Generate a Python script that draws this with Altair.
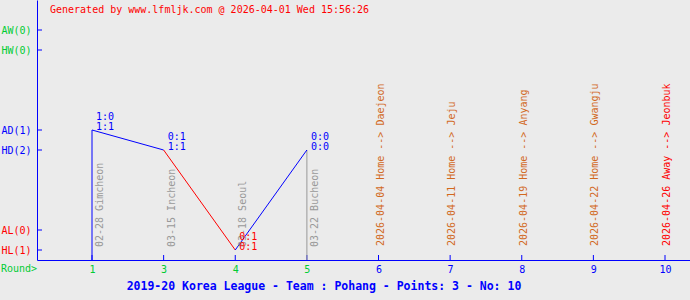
import altair as alt
import pandas as pd

# ---------------- data ----------------
rounds = [1, 3, 4, 5, 6, 7, 8, 9, 10]

level_names = ["HL(1)", "AL(0)", "HD(2)", "AD(1)", "HW(0)", "AW(0)"]
level_values = [1, 3, 11, 13, 21, 23]

played_rounds = [1, 3, 4, 5]
played_level = ["AD(1)", "HD(2)", "HL(1)", "HD(2)"]
played_result = ["D", "D", "L", "D"]
played_top = ["1:0", "0:1", "0:1", "0:0"]
played_bottom = ["1:1", "1:1", "0:1", "0:0"]
played_label = ["02-28 Gimcheon", "03-15 Incheon", "03-18 Seoul", "03-22 Bucheon"]
blue_stem_rounds = [1]
gray_stem_rounds = [5]

fut_rounds = [6, 7, 8, 9, 10]
fut_dates = ["2026-04-04", "2026-04-11", "2026-04-19", "2026-04-22", "2026-04-26"]
fut_venue = ["Home", "Home", "Home", "Home", "Away"]
fut_opp = ["Daejeon", "Jeju", "Anyang", "Gwangju", "Jeonbuk"]

header = "Generated by www.lfmljk.com @ 2026-04-01 Wed 15:56:26"
title = "2019-20 Korea League - Team : Pohang - Points: 3 - No: 10"
round_label = "Round>"

# ---------------- styles ----------------
FONT = "DejaVu Sans Mono"
BLUE = "#0000ff"
RED = "#ff0000"
GREEN = "#00cc33"
GRAY = "#999999"
ORANGE = "#d2691e"
BG = "#ebebeb"
res_color = {"W": GREEN, "D": BLUE, "L": RED}
venue_color = {"Home": ORANGE, "Away": RED}

lv = dict(zip(level_names, level_values))
ridx = {r: i for i, r in enumerate(rounds)}

played = pd.DataFrame({
    "i": [ridx[r] for r in played_rounds],
    "v": [lv[l] for l in played_level],
    "c": [res_color[r] for r in played_result],
    "top": played_top,
    "bot": played_bottom,
    "lab": played_label,
})

seg = pd.DataFrame({
    "i": played["i"][:-1].values,
    "v": played["v"][:-1].values,
    "i2": played["i"][1:].values,
    "v2": played["v"][1:].values,
    "c": played["c"][1:].values,
})

stems = pd.DataFrame({
    "i": [ridx[r] for r in blue_stem_rounds + gray_stem_rounds],
    "v": [lv[played_level[played_rounds.index(r)]] for r in blue_stem_rounds + gray_stem_rounds],
    "c": [BLUE] * len(blue_stem_rounds) + [GRAY] * len(gray_stem_rounds),
})

future = pd.DataFrame({
    "i": [ridx[r] for r in fut_rounds],
    "lab": [f"{d} {v} --> {o}" for d, v, o in zip(fut_dates, fut_venue, fut_opp)],
    "c": [venue_color[v] for v in fut_venue],
})

xticks = pd.DataFrame({"i": list(range(len(rounds)))})
yticks = pd.DataFrame({"v": level_values})

# ---------------- encodings ----------------
x_label_expr = "[" + ",".join(f"'{r}'" for r in rounds) + "][datum.value]"
y_label_expr = ("[" + ",".join(f"'{n}'" for n in level_names) + "][indexof(["
                + ",".join(str(v) for v in level_values) + "], datum.value)]")

x_axis = alt.Axis(
    values=list(range(len(rounds))), labelExpr=x_label_expr, title=None,
    ticks=False, tickSize=0, grid=False, domainColor=BLUE, domainWidth=1,
    labelFont=FONT, labelFontSize=10, labelPadding=4, labelFlush=False,
    labelOverlap=False,
    labelColor=alt.condition(f"datum.value <= {len(played_rounds) - 1}",
                             alt.value(GREEN), alt.value(BLUE)),
)
y_axis = alt.Axis(
    values=level_values, labelExpr=y_label_expr, title=None,
    ticks=False, tickSize=0, grid=False, domainColor=BLUE, domainWidth=1,
    labelFont=FONT, labelFontSize=10, labelPadding=6, labelOverlap=False,
    labelBound=False,
    labelColor={"condition": [{"test": "datum.value < 5", "value": RED},
                              {"test": "datum.value < 15", "value": BLUE}],
                "value": GREEN},
)
xs = alt.Scale(domain=[-0.7679, 8.349], nice=False, zero=False)
ys = alt.Scale(domain=[0, 26], nice=False, zero=False)
X = alt.X("i:Q", scale=xs, axis=x_axis)
Y = alt.Y("v:Q", scale=ys, axis=y_axis)

# ---------------- layers ----------------
xtick_layer = alt.Chart(xticks).mark_rule(color=BLUE, strokeWidth=1).encode(
    x=X, y=alt.value(255), y2=alt.value(260))
ytick_layer = alt.Chart(yticks).mark_rule(color=BLUE, strokeWidth=1).encode(
    y=Y, x=alt.value(0), x2=alt.value(5))

stem_layer = alt.Chart(stems).mark_rule(strokeWidth=1).encode(
    x=X, y=Y, y2=alt.Y2(datum=0), color=alt.Color("c:N", scale=None))

seg_layer = alt.Chart(seg).mark_rule(strokeWidth=1).encode(
    x=X, y=Y, x2="i2:Q", y2="v2:Q", color=alt.Color("c:N", scale=None))

top_layer = alt.Chart(played).mark_text(
    align="left", baseline="alphabetic", dx=4, dy=-10, font=FONT, fontSize=10
).encode(x=X, y=Y, text="top:N", color=alt.Color("c:N", scale=None))
bot_layer = alt.Chart(played).mark_text(
    align="left", baseline="alphabetic", dx=4, dy=0, font=FONT, fontSize=10
).encode(x=X, y=Y, text="bot:N", color=alt.Color("c:N", scale=None))

plab_layer = alt.Chart(played).mark_text(
    angle=270, align="left", baseline="middle", dy=8, font=FONT, fontSize=10, color=GRAY
).encode(x=X, y=alt.value(247), text="lab:N")

flab_layer = alt.Chart(future).mark_text(
    angle=270, align="left", baseline="middle", dy=2, font=FONT, fontSize=10
).encode(x=X, y=alt.value(246), text="lab:N", color=alt.Color("c:N", scale=None))

header_layer = alt.Chart(pd.DataFrame({"t": [header]})).mark_text(
    align="left", baseline="middle", font=FONT, fontSize=10, color=RED
).encode(x=alt.value(13), y=alt.value(10), text="t:N")

title_layer = alt.Chart(pd.DataFrame({"t": [title]})).mark_text(
    align="center", baseline="middle", font=FONT, fontSize=11.5, fontWeight="bold", color=BLUE
).encode(x=alt.value(287), y=alt.value(287), text="t:N")

round_layer = alt.Chart(pd.DataFrame({"t": [round_label]})).mark_text(
    align="left", baseline="middle", font=FONT, fontSize=10, color=GREEN
).encode(x=alt.value(-36), y=alt.value(269), text="t:N")

chart = alt.layer(
    xtick_layer, ytick_layer, stem_layer, seg_layer, plab_layer, flab_layer,
    top_layer, bot_layer, header_layer, title_layer, round_layer
).properties(
    width=653, height=260, background=BG,
    padding={"left": 37, "top": 0, "right": 0, "bottom": 40},
    autosize=alt.AutoSizeParams(type="none"),
).configure_view(stroke=None)

chart.save("out.html", embed_options={"renderer": "svg", "actions": False})
